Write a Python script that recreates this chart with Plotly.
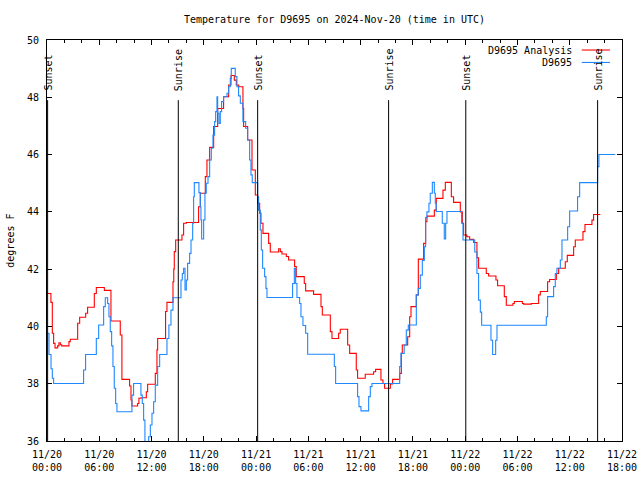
import pandas as pd
import plotly.graph_objects as go

START = pd.Timestamp("2024-11-20 00:00")

# D9695 Analysis (red): hours since 11/20 00:00 UTC, degrees F (step data)
analysis_hours = [0.00, 0.45, 0.61, 0.76, 0.92, 1.22, 1.37, 1.53, 1.68, 2.52, 2.67, 3.52, 3.75, 4.44,
                  4.66, 5.43, 5.66, 6.58, 7.34, 8.41, 8.60, 9.48, 9.64, 9.75, 10.40, 10.55, 10.78, 11.40,
                  11.55, 12.43, 12.62, 12.70, 13.61, 13.77, 14.46, 14.55, 14.61, 14.77, 15.49, 15.68, 15.99,
                  17.40, 17.60, 18.17, 18.36, 18.67, 19.13, 19.59, 20.27, 20.85, 21.12, 21.50, 21.73, 22.00,
                  22.49, 22.57, 23.03, 23.53, 23.91, 24.18, 24.41, 24.56, 24.79, 25.44, 25.63, 26.59, 26.78,
                  26.97, 27.47, 27.73, 28.42, 28.61, 29.53, 29.69, 30.60, 31.45, 31.60, 32.52, 32.71, 33.47,
                  33.66, 34.51, 34.74, 35.50, 35.65, 36.53, 37.49, 37.72, 38.33, 38.56, 38.75, 39.41, 39.67,
                  40.48, 40.67, 40.78, 41.40, 41.63, 41.78, 42.39, 42.62, 43.23, 43.46, 43.61, 44.46, 44.68,
                  45.45, 45.72, 46.41, 46.67, 47.44, 47.67, 47.82, 48.20, 48.51, 48.97, 49.35, 49.54, 50.42,
                  50.69, 51.53, 51.72, 52.49, 52.72, 53.48, 53.64, 54.56, 54.71, 55.59, 56.43, 56.62, 57.46,
                  57.69, 58.46, 58.73, 59.49, 59.72, 60.45, 60.64, 61.52, 61.75, 62.55, 62.74, 63.51]
analysis_temps = [41.15, 40.84, 39.76, 39.41, 39.25, 39.32, 39.43, 39.36, 39.32, 39.47, 39.55, 40.11, 40.32, 40.46,
                  40.67, 41.15, 41.36, 41.26, 40.19, 39.70, 38.15, 37.92, 37.43, 37.22, 37.31, 37.49, 37.51, 37.72,
                  37.98, 38.36, 39.18, 39.58, 40.52, 40.84, 41.56, 42.00, 42.61, 43.02, 43.19, 43.60, 43.63,
                  44.18, 44.65, 45.23, 45.81, 46.25, 46.98, 47.61, 48.02, 48.43, 48.76, 48.60, 48.43, 48.37,
                  47.61, 46.98, 46.51, 45.46, 44.59, 44.30, 43.95, 43.60, 43.25, 42.90, 42.60, 42.71, 42.61,
                  42.53, 42.44, 42.32, 42.09, 41.74, 41.50, 41.24, 41.12, 40.69, 40.40, 39.82, 39.58, 39.76,
                  39.90, 39.35, 39.06, 38.48, 38.19, 38.33, 38.42, 38.50, 38.13, 38.01, 37.84, 37.99, 38.15,
                  38.36, 39.06, 39.35, 39.64, 40.34, 40.69, 41.10, 42.35, 42.90, 43.66, 43.85, 44.06, 44.47,
                  44.76, 45.03, 44.53, 44.33, 44.00, 43.60, 43.19, 43.13, 43.04, 42.93, 42.40, 42.03, 41.85,
                  41.76, 41.62, 41.42, 41.04, 40.74, 40.80, 40.87, 40.80, 40.78, 40.80, 41.10, 41.22, 41.56,
                  41.64, 41.85, 42.03, 42.26, 42.48, 42.78, 43.02, 43.31, 43.56, 43.71, 43.91, 43.91]

# D9695 observations (blue)
obs_hours = [0.00, 0.23, 0.46, 0.61, 0.76, 4.20, 4.43, 5.66, 5.93, 6.50, 6.69, 6.96, 7.11, 7.26, 7.42, 7.57,
             7.72, 7.88, 8.03, 9.75, 9.94, 10.78, 10.94, 11.09, 11.24, 11.47, 11.67, 11.86, 12.05, 12.24,
             12.43, 12.70, 12.93, 13.77, 13.99, 14.23, 14.46, 15.38, 15.53, 15.68, 15.84, 15.99, 16.14,
             16.37, 16.53, 16.72, 16.83, 16.91, 17.44, 17.60, 17.67, 17.75, 17.98, 18.13, 18.28, 18.48,
             18.67, 18.86, 19.05, 19.24, 19.36, 19.51, 19.59, 19.74, 19.89, 20.04, 20.27, 20.66, 20.85,
             21.04, 21.15, 21.61, 21.80, 21.99, 22.19, 22.49, 22.80, 23.03, 23.26, 23.41, 23.56, 24.18,
             24.29, 24.48, 24.60, 24.75, 24.98, 25.13, 25.25, 28.19, 28.39, 28.54, 28.69, 29.00, 29.15,
             29.38, 29.69, 29.92, 32.98, 33.13, 35.65, 35.81, 36.04, 36.92, 37.11, 37.30, 40.48, 40.63,
             41.00, 41.24, 41.47, 42.39, 42.62, 42.85, 43.08, 43.31, 43.46, 43.61, 43.84, 43.99, 44.23,
             44.46, 44.57, 44.68, 45.37, 45.60, 45.76, 45.91, 47.59, 47.75, 49.10, 49.35, 49.54, 49.74,
             49.89, 50.96, 51.15, 51.50, 51.65, 57.31, 57.46, 58.15, 58.34, 58.53, 58.92, 59.11, 59.76,
             59.99, 60.90, 61.14, 63.20, 63.35, 65.23]
obs_temps = [39.76, 39.02, 38.52, 38.19, 38.01, 38.48, 39.02, 39.58, 40.05, 40.69, 41.00, 40.80, 40.34, 39.82,
             39.32, 38.60, 37.84, 37.31, 37.02, 37.60, 38.01, 37.60, 37.31, 36.73, 35.60, 35.80, 36.15, 36.56,
             36.97, 37.37, 37.95, 38.60, 39.02, 39.58, 40.05, 40.57, 41.00, 41.62, 41.85, 42.03, 41.27,
             41.62, 42.20, 42.55, 43.02, 43.60, 44.53, 45.02, 44.67, 44.18, 43.72, 43.05, 43.72, 44.65,
             45.00, 45.23, 45.81, 46.22, 46.68, 47.15, 47.50, 48.02, 47.44, 47.09, 47.50, 47.85, 48.02,
             48.14, 48.37, 48.66, 49.01, 48.72, 48.37, 48.05, 47.79, 47.15, 46.92, 46.51, 45.81, 45.29,
             45.02, 44.53, 44.06, 43.37, 42.67, 42.03, 41.74, 41.33, 41.01, 41.50, 42.03, 41.50, 41.01,
             40.80, 40.34, 40.03, 39.76, 39.03, 38.60, 38.01, 37.55, 37.20, 37.05, 37.55, 37.90, 38.01,
             38.60, 39.06, 39.35, 39.87, 40.05, 41.10, 41.33, 41.79, 42.30, 42.78, 43.80, 44.00, 44.30,
             44.65, 45.03, 44.65, 44.30, 44.01, 43.60, 43.05, 43.60, 44.01, 43.60, 43.02, 42.60, 41.85,
             40.92, 40.50, 40.04, 39.52, 39.02, 39.52, 40.04, 40.34, 41.04, 41.39, 41.85, 42.03, 42.32,
             43.02, 43.48, 44.03, 44.53, 45.02, 45.58, 46.00, 46.00]

event_hours = [0.07, 15.07, 24.18, 39.21, 48.07, 63.20]
event_labels = ["Sunset", "Sunrise", "Sunset", "Sunrise", "Sunset", "Sunrise"]

tick_hours = [0, 6, 12, 18, 24, 30, 36, 42, 48, 54, 60, 66]
tick_labels = ["11/20<br>00:00", "11/20<br>06:00", "11/20<br>12:00", "11/20<br>18:00",
               "11/21<br>00:00", "11/21<br>06:00", "11/21<br>12:00", "11/21<br>18:00",
               "11/22<br>00:00", "11/22<br>06:00", "11/22<br>12:00", "11/22<br>18:00"]

series_names = ["D9695 Analysis", "D9695"]
series_colors = ["#ff0000", "#1e88ff"]


def to_time(hours):
    return [START + pd.Timedelta(hours=h) for h in hours]


FONT = "DejaVu Sans Mono"

fig = go.Figure()
for name, color, hrs, vals in [(series_names[0], series_colors[0], analysis_hours, analysis_temps),
                               (series_names[1], series_colors[1], obs_hours, obs_temps)]:
    fig.add_trace(go.Scatter(x=to_time(hrs), y=vals, mode="lines", name=name,
                             line=dict(color=color, width=1.1, shape="hv"), showlegend=False))

shapes = []
annotations = []
for h, lab in zip(event_hours, event_labels):
    t = START + pd.Timedelta(hours=h)
    shapes.append(dict(type="line", xref="x", yref="paper", x0=t, x1=t, y0=0, y1=0.85,
                       line=dict(color="black", width=1)))
    annotations.append(dict(x=t, y=0.868, xref="x", yref="paper", text=lab, textangle=-90,
                            showarrow=False, xanchor="center", yanchor="bottom", xshift=1,
                            font=dict(family=FONT, size=10, color="black")))

# legend (gnuplot style: text right-aligned, sample to the right)
leg_y = [0.975, 0.944]
for name, color, y in zip(series_names, series_colors, leg_y):
    annotations.append(dict(x=0.917, y=y, xref="paper", yref="paper", text=name, showarrow=False,
                            xanchor="right", yanchor="middle",
                            font=dict(family=FONT, size=10, color="black")))
    shapes.append(dict(type="line", xref="paper", yref="paper", x0=0.930, x1=0.979, y0=y, y1=y,
                       line=dict(color=color, width=1.1)))

annotations.append(dict(x=-0.064, y=0.5, xref="paper", yref="paper", text="degrees F", textangle=-90,
                        showarrow=False, xanchor="center", yanchor="middle",
                        font=dict(family=FONT, size=10, color="black")))

fig.update_layout(
    template="none",
    width=640, height=480, autosize=False,
    margin=dict(l=47, r=18, t=40, b=39, pad=0),
    paper_bgcolor="white", plot_bgcolor="white",
    font=dict(family=FONT, size=10, color="black"),
    title=dict(text="Temperature for D9695 on 2024-Nov-20 (time in UTC)", x=0.5, xref="paper",
               xanchor="center", y=1 - 19 / 480, yref="container", yanchor="middle",
               font=dict(family=FONT, size=10, color="black")),
    shapes=shapes, annotations=annotations,
)
fig.update_xaxes(
    type="date", automargin=False,
    range=[START, START + pd.Timedelta(hours=66)],
    tickmode="array", tickvals=to_time(tick_hours), ticktext=tick_labels,
    ticks="inside", ticklen=5, tickwidth=1, tickcolor="black",
    showline=True, linecolor="black", linewidth=1, mirror="allticks",
    showgrid=False, zeroline=False,
    tickfont=dict(family=FONT, size=10, color="black"),
    ticklabelstandoff=4,
    minor=dict(ticks="inside", ticklen=3, tickcolor="black", dtick=2 * 3600 * 1000,
               tick0=START, showgrid=False),
)
fig.update_yaxes(
    automargin=False,
    range=[36, 50], tickmode="linear", tick0=36, dtick=2,
    ticks="inside", ticklen=5, tickwidth=1, tickcolor="black",
    showline=True, linecolor="black", linewidth=1, mirror="allticks",
    showgrid=False, zeroline=False,
    tickfont=dict(family=FONT, size=10, color="black"),
    ticklabelstandoff=5,
)

fig.write_html("out.html", config={"displayModeBar": False},
               post_script="document.body.style.margin='0px';document.body.style.padding='0px';")
